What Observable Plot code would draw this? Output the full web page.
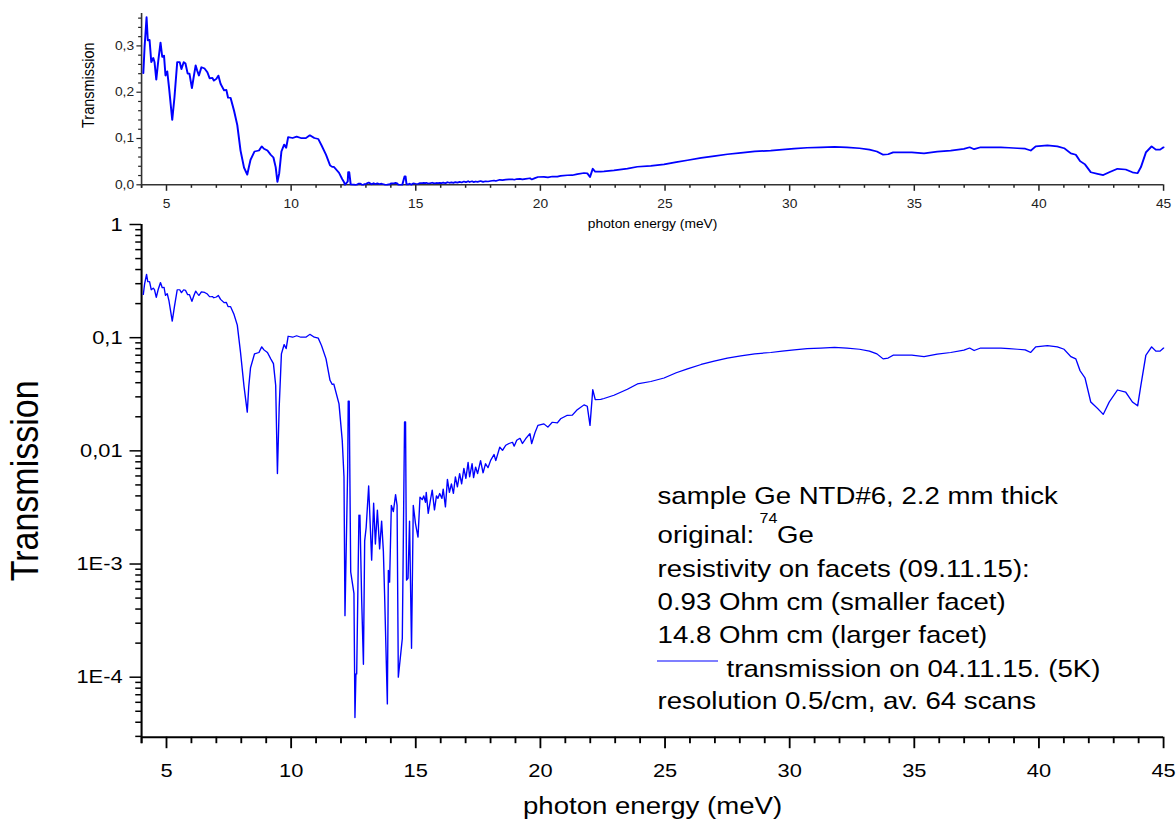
<!DOCTYPE html>
<html><head><meta charset="utf-8">
<script src="https://cdn.jsdelivr.net/npm/d3@7"></script>
<script src="https://cdn.jsdelivr.net/npm/@observablehq/plot@0.6"></script>
<style>
html,body{margin:0;padding:0;background:#fff;}
#wrap{position:relative;width:1176px;height:823px;overflow:hidden;}
#wrap svg{position:absolute;left:0;top:0;}
</style></head><body><div id="wrap"></div>
<script>
// ---- data (photon energy in meV, transmission) ----
const energy = [
4.07,4.12,4.20,4.25,4.32,4.39,4.47,4.52,4.59,4.67,4.76,4.83,4.90,4.96,5.03,5.10,5.23,5.32,5.43,5.53,
5.60,5.69,5.76,5.85,5.92,6.02,6.10,6.17,6.23,6.30,6.40,6.53,6.64,6.73,6.84,6.90,7.00,7.08,7.17,7.31,
7.40,7.47,7.57,7.71,7.84,7.97,8.11,8.24,8.30,8.37,8.53,8.71,8.82,8.91,9.05,9.18,9.29,9.38,9.45,9.52,
9.61,9.72,9.80,9.88,10.06,10.22,10.39,10.59,10.75,10.93,11.09,11.22,11.40,11.56,11.65,11.71,11.92,12.05,12.12,12.16,
12.27,12.29,12.33,12.39,12.52,12.56,12.60,12.63,12.72,12.74,12.76,12.83,12.90,12.95,13.01,13.11,13.23,13.31,13.38,13.46,
13.55,13.63,13.70,13.75,13.86,13.90,13.95,14.02,14.10,14.19,14.25,14.30,14.46,14.55,14.59,14.63,14.69,14.75,14.83,14.90,
14.99,15.09,15.17,15.26,15.32,15.39,15.42,15.50,15.59,15.66,15.75,15.83,15.89,15.96,16.05,16.10,16.19,16.27,16.35,16.43,
16.51,16.59,16.67,16.76,16.84,16.93,17.01,17.10,17.16,17.26,17.32,17.40,17.48,17.60,17.70,17.80,17.90,18.00,18.14,18.21,
18.37,18.48,18.61,18.74,18.88,18.95,19.05,19.18,19.28,19.41,19.58,19.65,19.78,19.90,20.14,20.30,20.48,20.68,20.81,21.08,
21.28,21.48,21.75,21.88,21.99,22.10,22.20,22.42,22.55,22.95,23.49,23.89,24.43,24.96,25.45,25.90,26.45,26.97,27.50,28.04,
28.60,29.24,29.70,30.18,30.70,31.25,31.80,32.30,32.80,33.20,33.50,33.75,33.95,34.15,34.46,34.90,35.39,35.92,36.46,36.99,
37.22,37.40,37.66,38.00,38.47,38.80,39.14,39.45,39.67,39.87,40.34,40.74,41.01,41.28,41.48,41.65,41.85,42.08,42.35,42.58,
42.82,43.15,43.48,43.75,43.96,44.09,44.29,44.52,44.69,44.86,45.00
];
const transmission = [
0.241,0.297,0.362,0.312,0.313,0.265,0.274,0.265,0.227,0.268,0.307,0.276,0.279,0.236,0.245,0.211,0.140,0.189,0.265,0.265,
0.250,0.265,0.262,0.240,0.240,0.209,0.236,0.258,0.247,0.236,0.254,0.251,0.243,0.230,0.231,0.225,0.229,0.236,0.218,0.204,
0.205,0.188,0.188,0.160,0.129,0.074,0.037,0.022,0.037,0.054,0.072,0.074,0.083,0.078,0.074,0.065,0.059,0.038,0.0063,0.024,
0.072,0.087,0.080,0.103,0.101,0.104,0.101,0.101,0.107,0.101,0.099,0.085,0.065,0.042,0.0386,0.039,0.026,0.0124,0.0059,0.00035,
0.0072,0.0275,0.0275,0.00085,0.00055,0.000044,0.000107,0.000107,0.0027,0.0026,0.0027,0.00048,0.00013,0.0016,0.0021,0.0049,0.00108,0.00345,0.0015,0.0030,
0.00136,0.0024,0.0013,0.00053,0.000058,0.00088,0.00069,0.0033,0.0029,0.0041,0.0033,0.00010,0.00022,0.018,0.018,0.00072,0.00075,0.0024,0.00018,0.0033,
0.00227,0.00173,0.0039,0.0037,0.0040,0.0035,0.0043,0.0028,0.0037,0.0045,0.0030,0.0040,0.0038,0.0042,0.0038,0.0046,0.0032,0.0056,0.0043,0.0051,
0.0042,0.0059,0.0048,0.0063,0.0051,0.0070,0.0057,0.0079,0.0059,0.0077,0.0058,0.0072,0.0063,0.0082,0.0064,0.0077,0.0071,0.0082,0.0093,0.0082,
0.0108,0.0101,0.0112,0.0116,0.0119,0.0110,0.0124,0.0129,0.0116,0.0128,0.0142,0.0116,0.0144,0.0168,0.0173,0.0162,0.0179,0.0177,0.0192,0.0206,
0.0207,0.0231,0.0255,0.0248,0.0168,0.0347,0.0283,0.0285,0.029,0.031,0.035,0.039,0.041,0.044,0.049,0.053,0.058,0.062,0.066,0.069,
0.072,0.074,0.076,0.078,0.080,0.081,0.082,0.081,0.079,0.076,0.072,0.065,0.066,0.070,0.070,0.070,0.068,0.0715,0.074,0.0777,
0.081,0.077,0.081,0.081,0.081,0.080,0.079,0.078,0.074,0.083,0.085,0.083,0.079,0.068,0.065,0.051,0.044,0.027,0.0237,0.021,
0.027,0.0345,0.033,0.027,0.025,0.038,0.070,0.083,0.076,0.076,0.081
];
const xMajorTicks = [5,10,15,20,25,30,35,40,45];
const topYTicks = [0,0.1,0.2,0.3];
const topYTickLabels = ["0,0","0,1","0,2","0,3"];
const logYTicks = [1e-4,1e-3,0.01,0.1,1];
const logYTickLabels = ["1E-4","1E-3","0,01","0,1","1"];
const xTitle = "photon energy (meV)";
const yTitle = "Transmission";
const annotationLines = [
  "sample Ge NTD#6, 2.2 mm thick",
  "original: ",
  "resistivity on facets (09.11.15):",
  "0.93 Ohm cm (smaller facet)",
  "14.8 Ohm cm (larger facet)",
  "transmission on 04.11.15. (5K)",
  "resolution 0.5/cm, av. 64 scans"
];
const isotopeMass = "74";
const isotopeSymbol = "Ge";

// ---- layout ----
const FONT = '"Liberation Sans", Arial, Helvetica, sans-serif';
const S = 1.15;                 // the reference is drawn horizontally stretched
const PW = 1176, PH = 823;
const W = PW / S;
const lx = v => v / S;          // physical x -> logical x
const xDomain = [4, 45];
const topYDomain = [0, 0.37];
const logYDomain = [2.95e-5, 1];

const data = energy.map((e, i) => ({e, t: transmission[i]}));
const xMinorTicks = d3.range(4, 46).filter(v => v % 5 !== 0);
const topYMinor = d3.range(1, 19).filter(k => k % 5 !== 0).map(k => k * 0.02);
const logMinor = [];
for (let p = -5; p <= -1; p++) for (let k = 2; k <= 9; k++) {
  const v = k * Math.pow(10, p);
  if (v >= logYDomain[0] && v <= logYDomain[1]) logMinor.push(v);
}

function stretch(svg, H) {
  svg.setAttribute("width", PW);
  svg.setAttribute("height", H);
  svg.setAttribute("viewBox", `0 0 ${W} ${H}`);
  svg.setAttribute("preserveAspectRatio", "none");
  svg.style.width = PW + "px";
  svg.style.height = H + "px";
  svg.style.maxWidth = "none";
  return svg;
}

// ---- bottom (log) panel ----
const bTop = 224, bBottom = 736.7;
const ann = (text, baseline, x, size) => Plot.text([text], {
  text: d => d, frameAnchor: "top-left", textAnchor: "start",
  dx: lx(x) - lx(141), dy: baseline - 0.32 * size - bTop, fontSize: size, fill: "#000"
});
const baselines = [494, 533.3, 566.7, 600, 633, 666.7, 699];

const bottom = Plot.plot({
  width: W, height: PH,
  marginLeft: lx(141), marginRight: W - lx(1163), marginTop: bTop, marginBottom: PH - bBottom,
  style: {background: "transparent", fontFamily: FONT, color: "#000", overflow: "visible"},
  x: {domain: xDomain},
  y: {type: "log", domain: logYDomain},
  marks: [
    Plot.axisX(xMinorTicks.concat([4]), {tickSize: 6.5, tickFormat: () => "", label: null, strokeWidth: 1.6}),
    Plot.axisX(xMajorTicks, {tickSize: 11.5, tickPadding: 15, fontSize: 19, label: null, strokeWidth: 1.6, tickFormat: d => String(d)}),
    Plot.axisY(logMinor, {tickSize: 5, tickFormat: () => "", label: null, strokeWidth: 1.5}),
    Plot.axisY(logYTicks, {tickSize: 10, tickPadding: 6.5, fontSize: 19, label: null, strokeWidth: 1.5,
      tickFormat: d => logYTickLabels[logYTicks.indexOf(d)]}),
    Plot.ruleY([logYDomain[0]], {strokeWidth: 2, stroke: "#000"}),
    Plot.ruleX([xDomain[0]], {strokeWidth: 1.8, stroke: "#000"}),
    Plot.line(data, {x: "e", y: "t", stroke: "#0000ff", strokeWidth: 1.2}),
    Plot.text([xTitle], {text: d => d, frameAnchor: "bottom", dy: 76.5, fontSize: 24, fill: "#000"}),
    Plot.text([yTitle], {text: d => d, frameAnchor: "left", textAnchor: "middle", rotate: -90,
      dx: lx(25) - lx(141), fontSize: 34, fill: "#000"}),
    ...annotationLines.map((t, i) => ann(t, baselines[i], i === 5 ? 726 : 657, 24)),
    ann(isotopeMass, 516.7, 759, 14),
    ann(isotopeSymbol, baselines[1], 776.5, 24)
  ]
});
stretch(bottom, PH);
d3.select(bottom).append("line")
  .attr("x1", lx(657)).attr("x2", lx(718))
  .attr("y1", 661).attr("y2", 661)
  .attr("stroke", "#0000ff").attr("stroke-width", 1.2);

// ---- top (linear) panel ----
const TH = 240, tTop = 13, tBottom = 184.3;
const topPlot = Plot.plot({
  width: W, height: TH,
  marginLeft: lx(141), marginRight: W - lx(1163), marginTop: tTop, marginBottom: TH - tBottom,
  style: {background: "transparent", fontFamily: FONT, color: "#222", overflow: "visible"},
  x: {domain: xDomain},
  y: {domain: topYDomain},
  marks: [
    Plot.axisX(xMinorTicks.concat([4]), {tickSize: 3.5, tickFormat: () => "", label: null, strokeWidth: 1.3}),
    Plot.axisX(xMajorTicks, {tickSize: 6.5, tickPadding: 8, fontSize: 12, label: null, strokeWidth: 1.3, tickFormat: d => String(d)}),
    Plot.axisY(topYMinor, {tickSize: 2.5, tickFormat: () => "", label: null, strokeWidth: 1.2}),
    Plot.axisY(topYTicks, {tickSize: 4, tickPadding: 2.5, fontSize: 12, label: null, strokeWidth: 1.2,
      tickFormat: d => topYTickLabels[topYTicks.indexOf(d)]}),
    Plot.ruleY([topYDomain[0]], {strokeWidth: 1.6, stroke: "#333"}),
    Plot.ruleX([xDomain[0]], {strokeWidth: 1.4, stroke: "#333"}),
    Plot.line(data, {x: "e", y: "t", stroke: "#0000ff", strokeWidth: 1.7}),
    Plot.text([xTitle], {text: d => d, frameAnchor: "bottom", dy: 43, fontSize: 12, fill: "#000"}),
    Plot.text([yTitle], {text: d => d, frameAnchor: "left", textAnchor: "middle", rotate: -90,
      dx: lx(88) - lx(141), dy: -14, fontSize: 14.5, fill: "#000"})
  ]
});
stretch(topPlot, TH);

const wrap = document.getElementById("wrap");
wrap.appendChild(bottom);
wrap.appendChild(topPlot);
</script>
</body></html>
